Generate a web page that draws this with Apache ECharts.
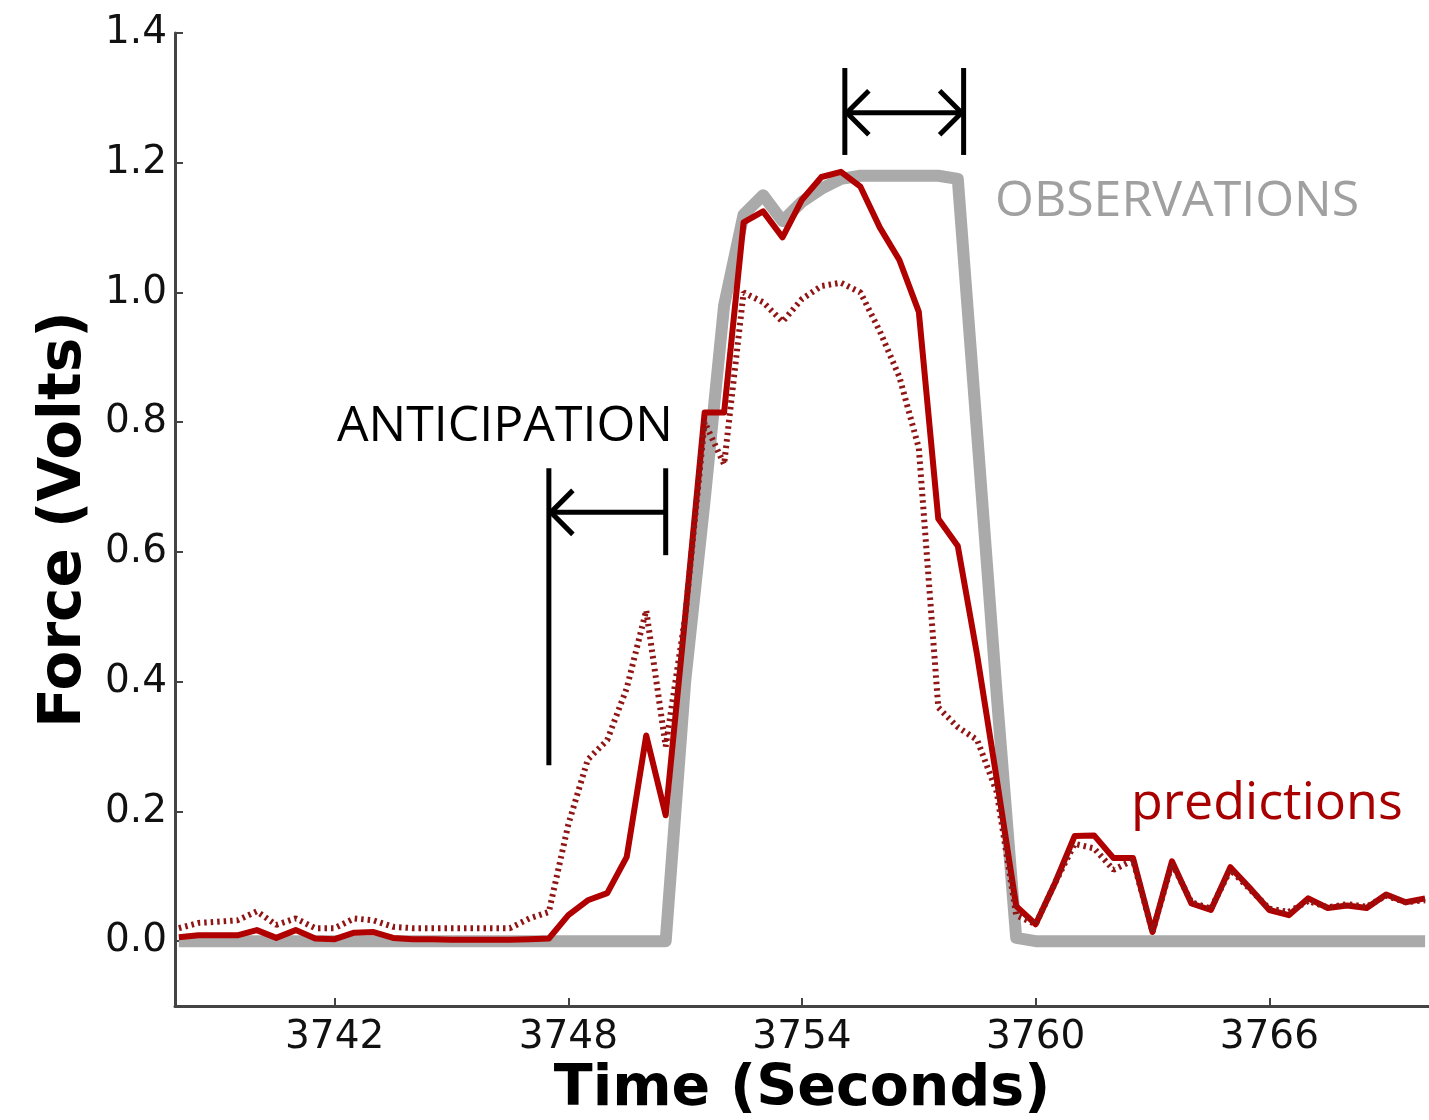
<!DOCTYPE html>
<html>
<head>
<meta charset="utf-8">
<script src="https://cdn.jsdelivr.net/npm/echarts@6/dist/echarts.min.js"></script>
<style>
  html, body { margin: 0; padding: 0; background: #fff; }
  #force_chart { width: 1429px; height: 1120px; }
</style>
</head>
<body>
<div id="force_chart"></div>
<script>
// sample times (s), 0.5 s apart
const times = [
  3738, 3738.5, 3739, 3739.5, 3740, 3740.5, 3741, 3741.5, 3742, 3742.5,
  3743, 3743.5, 3744, 3744.5, 3745, 3745.5, 3746, 3746.5, 3747, 3747.5,
  3748, 3748.5, 3749, 3749.5, 3750, 3750.5, 3751, 3751.5, 3752, 3752.5,
  3753, 3753.5, 3754, 3754.5, 3755, 3755.5, 3756, 3756.5, 3757, 3757.5,
  3758, 3758.5, 3759, 3759.5, 3760, 3760.5, 3761, 3761.5, 3762, 3762.5,
  3763, 3763.5, 3764, 3764.5, 3765, 3765.5, 3766, 3766.5, 3767, 3767.5,
  3768, 3768.5, 3769, 3769.5, 3770
]
// grey thick trace
const observations = [
  0, 0, 0, 0, 0, 0, 0, 0, 0, 0,
  0, 0, 0, 0, 0, 0, 0, 0, 0, 0,
  0, 0, 0, 0, 0, 0, 0.40, 0.68, 0.98, 1.12,
  1.15, 1.11, 1.14, 1.16, 1.175, 1.18, 1.18, 1.18, 1.18, 1.18,
  1.175, 0.78, 0.38, 0.005, 0, 0, 0, 0, 0, 0,
  0, 0, 0, 0, 0, 0, 0, 0, 0, 0,
  0, 0, 0, 0, 0
]
// solid red trace
const predictions = [
  0.006, 0.009, 0.009, 0.009, 0.017, 0.005, 0.017, 0.004, 0.003, 0.013,
  0.014, 0.005, 0.003, 0.003, 0.002, 0.002, 0.002, 0.002, 0.003, 0.004,
  0.04, 0.063, 0.074, 0.13, 0.317, 0.194, 0.50, 0.815, 0.815, 1.108,
  1.125, 1.085, 1.143, 1.178, 1.186, 1.163, 1.10, 1.05, 0.97, 0.651,
  0.609, 0.44, 0.25, 0.054, 0.026, 0.09, 0.162, 0.163, 0.128, 0.128,
  0.014, 0.123, 0.058, 0.048, 0.114, 0.082, 0.048, 0.04, 0.066, 0.051,
  0.055, 0.051, 0.072, 0.06, 0.066
]
// dotted red trace
const predictionsDotted = [
  0.02, 0.028, 0.03, 0.032, 0.046, 0.025, 0.035, 0.02, 0.02, 0.035,
  0.032, 0.022, 0.02, 0.02, 0.02, 0.02, 0.02, 0.02, 0.035, 0.045,
  0.18, 0.28, 0.31, 0.39, 0.51, 0.30, 0.50, 0.80, 0.735, 1.0,
  0.985, 0.955, 0.99, 1.01, 1.015, 1.0, 0.94, 0.87, 0.76, 0.36,
  0.33, 0.31, 0.23, 0.04, 0.026, 0.09, 0.15, 0.143, 0.11, 0.125,
  0.014, 0.12, 0.06, 0.05, 0.11, 0.08, 0.05, 0.045, 0.062, 0.052,
  0.057, 0.053, 0.07, 0.06, 0.063
]
const xTicks = [3742, 3748, 3754, 3760, 3766]
const yTicks = [0, 0.2, 0.4, 0.6, 0.8, 1.0, 1.2, 1.4]

// bracket annotations (time / volts)
const brackets = [
  { x0: 3747.5, x1: 3750.5, y: 0.661, top0: 0.729, bot0: 0.271, top1: 0.729, bot1: 0.595, left: true, right: false },
  { x0: 3755.1, x1: 3758.15, y: 1.277, top0: 1.346, bot0: 1.212, top1: 1.346, bot1: 1.212, left: true, right: true }
]

function pairs (vals) {
  return times.map((t, i) => [t, vals[i]])
}

function renderBracket (params, api) {
  const b = brackets[api.value(2)]
  const p = (x, y) => api.coord([x, y])
  const style = { stroke: '#000', lineWidth: 5, fill: null }
  const a = p(b.x0, b.y)
  const c = p(b.x1, b.y)
  let children = [
    { type: 'line', shape: { x1: p(b.x0, b.top0)[0], y1: p(b.x0, b.top0)[1], x2: p(b.x0, b.bot0)[0], y2: p(b.x0, b.bot0)[1] }, style: style },
    { type: 'line', shape: { x1: p(b.x1, b.top1)[0], y1: p(b.x1, b.top1)[1], x2: p(b.x1, b.bot1)[0], y2: p(b.x1, b.bot1)[1] }, style: style },
    { type: 'line', shape: { x1: a[0], y1: a[1], x2: c[0], y2: c[1] }, style: style }
  ]
  if (b.left) {
    children.push({ type: 'polyline', shape: { points: [[a[0] + 24, a[1] - 22], [a[0] + 2, a[1]], [a[0] + 24, a[1] + 22]] }, style: style })
  }
  if (b.right) {
    children.push({ type: 'polyline', shape: { points: [[c[0] - 24, c[1] - 22], [c[0] - 2, c[1]], [c[0] - 24, c[1] + 22]] }, style: style })
  }
  return { type: 'group', children: children }
}

let dom = document.getElementById('force_chart')
let myChart = echarts.init(dom, null, { renderer: 'canvas' })
let option = {
  animation: false,
  backgroundColor: '#fff',
  grid: {
    left: 175,
    right: 0,
    top: 33,
    bottom: 114,
    outerBoundsMode: 'none'
  },
  xAxis: {
    type: 'value',
    min: 3737.9,
    max: 3770.1,
    name: 'Time (Seconds)',
    nameLocation: 'middle',
    nameGap: 50,
    nameTextStyle: {
      fontFamily: 'DejaVu Sans',
      fontWeight: 'bold',
      fontSize: 57,
      color: '#000'
    },
    axisLine: { onZero: false, lineStyle: { color: '#444', width: 3 } },
    axisTick: { inside: true, length: 8, customValues: xTicks, lineStyle: { color: '#444', width: 2 } },
    axisLabel: {
      customValues: xTicks,
      margin: 12,
      fontFamily: 'DejaVu Sans',
      fontSize: 39,
      color: '#111',
      formatter: function (v) {
        return String(v)
      }
    },
    splitLine: { show: false }
  },
  yAxis: {
    type: 'value',
    min: -0.1,
    max: 1.4,
    name: 'Force (Volts)',
    nameLocation: 'middle',
    nameGap: 80,
    nameTextStyle: {
      fontFamily: 'DejaVu Sans',
      fontWeight: 'bold',
      fontSize: 58,
      color: '#000'
    },
    axisLine: { show: true, lineStyle: { color: '#444', width: 3 } },
    axisTick: { show: true, inside: true, length: 8, customValues: yTicks, lineStyle: { color: '#444', width: 2 } },
    axisLabel: {
      customValues: yTicks,
      margin: 8,
      fontFamily: 'DejaVu Sans',
      fontSize: 39,
      color: '#111',
      formatter: function (v) {
        return v.toFixed(1)
      }
    },
    splitLine: { show: false }
  },
  series: [
    {
      name: 'observations',
      type: 'line',
      data: pairs(observations),
      symbol: 'none',
      lineStyle: { color: '#aaaaaa', width: 12, join: 'round' },
      z: 1
    },
    {
      name: 'predictions',
      type: 'line',
      data: pairs(predictions),
      symbol: 'none',
      lineStyle: { color: '#b00000', width: 6, join: 'round' },
      z: 3
    },
    {
      name: 'predictions dotted',
      type: 'line',
      data: pairs(predictionsDotted),
      symbol: 'none',
      lineStyle: { color: '#901515', width: 6, type: [2.5, 4] },
      z: 4
    },
    {
      name: 'brackets',
      type: 'custom',
      renderItem: renderBracket,
      data: brackets.map((b, i) => [b.x0, b.y, i]),
      clip: false,
      z: 5
    }
  ],
  graphic: [
    {
      type: 'text',
      style: { x: 337, y: 427, text: 'ANTICIPATION', fontFamily: 'Open Sans', fontSize: 50, fill: '#000', verticalAlign: 'middle' }
    },
    {
      type: 'text',
      style: { x: 995, y: 202, text: 'OBSERVATIONS', fontFamily: 'Open Sans', fontSize: 50, fill: '#a0a0a0', verticalAlign: 'middle' }
    },
    {
      type: 'text',
      style: { x: 1131, y: 804, text: 'predictions', fontFamily: 'Open Sans', fontSize: 52, fill: '#a80000', verticalAlign: 'middle' }
    }
  ]
}
if (option && typeof option === 'object') {
  myChart.setOption(option, true)
}
</script>
</body>
</html>
